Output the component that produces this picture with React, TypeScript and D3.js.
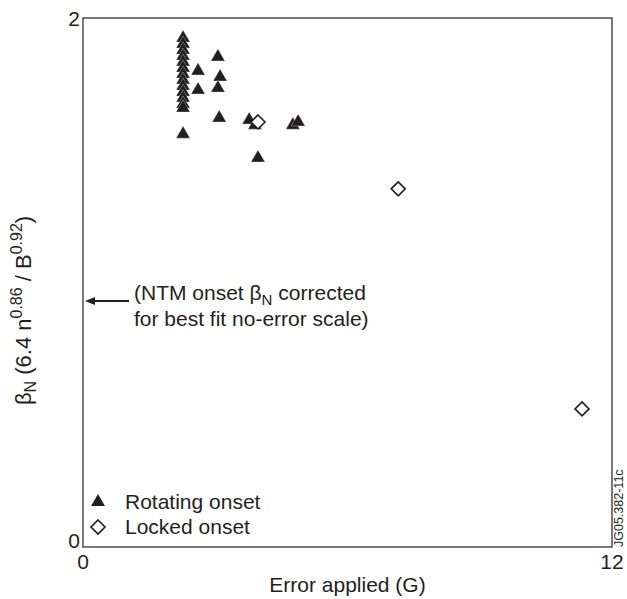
import React from "react";
import * as d3 from "d3";

const rotatingX = [2.27, 2.27, 2.27, 2.27, 2.27, 2.27, 2.27, 2.27, 2.27, 2.27, 2.27, 2.27, 2.27, 2.27, 2.61, 2.61, 3.06, 3.11, 3.06, 3.09, 3.77, 3.9, 3.97, 4.76, 4.88];
const rotatingY = [1.924, 1.902, 1.879, 1.856, 1.834, 1.811, 1.788, 1.766, 1.743, 1.72, 1.698, 1.675, 1.66, 1.561, 1.8, 1.728, 1.853, 1.777, 1.735, 1.622, 1.614, 1.595, 1.471, 1.595, 1.607];
const lockedX = [3.97, 7.15, 11.32];
const lockedY = [1.607, 1.354, 0.522];
const xTicks = [0, 12];
const yTicks = [0, 2];
const annotationY = 0.93;

const W = 627;
const H = 599;
const M = { left: 83, top: 18, right: 612, bottom: 547 };
const FONT = "'Liberation Sans', Arial, Helvetica, sans-serif";
const INK = "#231f20";

export default function App() {
  const x = d3.scaleLinear().domain([0, 12]).range([M.left, M.right]);
  const y = d3.scaleLinear().domain([0, 2]).range([M.bottom, M.top]);
  const tri = d3.symbol().type(d3.symbolTriangle).size(84)() as string;
  const dia = (s: number) => `M0,${-s}L${s},0L0,${s}L${-s},0Z`;
  const ay = y(annotationY);

  return (
    <svg width={W} height={H} style={{ position: "absolute", left: 0, top: 0, background: "#fff" }} fontFamily={FONT}>
      <rect x={0} y={0} width={W} height={H} fill="#fff" />
      <rect x={M.left} y={M.top} width={M.right - M.left} height={M.bottom - M.top} fill="none" stroke={INK} strokeWidth={1.2} />
      {yTicks.map((t) => (
        <text key={"y" + t} x={M.left - 3} y={t === 0 ? y(t) + 1 : y(t) + 8} textAnchor="end" fontSize={21} fill={INK}>{t}</text>
      ))}
      {xTicks.map((t) => (
        <text key={"x" + t} x={x(t)} y={M.bottom + 22} textAnchor="middle" fontSize={21} fill={INK}>{t}</text>
      ))}
      <text x={(M.left + M.right) / 2} y={592} textAnchor="middle" fontSize={21} fill={INK}>Error applied (G)</text>
      <text transform={`translate(31,${(M.top + M.bottom) / 2 + 28}) rotate(-90)`} textAnchor="middle" fontSize={22} fill={INK}>
        β<tspan dy={5} fontSize={16}>N</tspan><tspan dy={-5}> (6.4 n</tspan><tspan dy={-9} fontSize={16}>0.86</tspan><tspan dy={9}> / B</tspan><tspan dy={-9} fontSize={16}>0.92</tspan><tspan dy={9}>)</tspan>
      </text>
      {/* annotation */}
      <line x1={x(0) + 10} x2={129} y1={ay} y2={ay} stroke={INK} strokeWidth={2} />
      <path d={`M${x(0) + 2},${ay}L${x(0) + 12},${ay - 4}L${x(0) + 12},${ay + 4}Z`} fill={INK} />
      <text x={134} y={300} fontSize={21} fill={INK}>
        (NTM onset β<tspan dy={5} fontSize={15}>N</tspan><tspan dy={-5}> corrected</tspan>
      </text>
      <text x={134} y={326} fontSize={21} fill={INK}>for best fit no-error scale)</text>
      {/* data */}
      {rotatingX.map((v, i) => (
        <path key={"r" + i} d={tri} transform={`translate(${x(v)},${y(rotatingY[i])})`} fill={INK} stroke="#fff" strokeWidth={0.3} />
      ))}
      {lockedX.map((v, i) => (
        <path key={"l" + i} d={dia(7)} transform={`translate(${x(v)},${y(lockedY[i])})`} fill="#fff" stroke={INK} strokeWidth={1.6} />
      ))}
      {/* legend */}
      <path d={tri} transform="translate(98,502)" fill={INK} />
      <text x={125} y={509} fontSize={21} fill={INK}>Rotating onset</text>
      <path d={dia(7)} transform="translate(98,527)" fill="#fff" stroke={INK} strokeWidth={1.6} />
      <text x={125} y={534} fontSize={21} fill={INK}>Locked onset</text>
      <text transform="translate(623,547) rotate(-90)" fontSize={12.5} fill={INK}>JG05.382-11c</text>
    </svg>
  );
}
